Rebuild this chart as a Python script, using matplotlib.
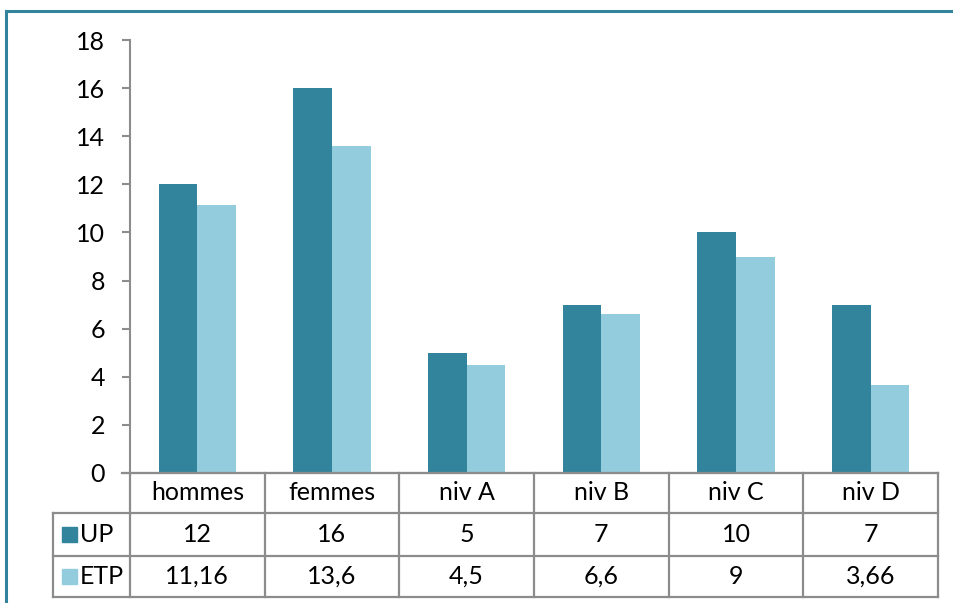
import matplotlib
matplotlib.use("Agg")
import matplotlib.pyplot as plt
from matplotlib.lines import Line2D
from matplotlib.patches import Rectangle
from matplotlib.transforms import blended_transform_factory

# Data
categories = ["hommes", "femmes", "niv A", "niv B", "niv C", "niv D"]
series_names = ["UP", "ETP"]
up_values = [12, 16, 5, 7, 10, 7]
etp_values = [11.16, 13.6, 4.5, 6.6, 9, 3.66]
up_labels = ["12", "16", "5", "7", "10", "7"]
etp_labels = ["11,16", "13,6", "4,5", "6,6", "9", "3,66"]
y_ticks = [0, 2, 4, 6, 8, 10, 12, 14, 16, 18]

UP_COLOR = "#31849B"
ETP_COLOR = "#93CDDD"
GRID_GRAY = "#8C8C8C"
FONT = "Lato"
FS = 18

W, H = 954, 603
fig = plt.figure(figsize=(W / 100, H / 100), dpi=100)


def fx(px):
    return px / W


def fy(py):
    return 1 - py / H


ax_left, ax_right, ax_top, ax_bottom = 130, 938, 40, 473
ax = fig.add_axes([fx(ax_left), fy(ax_bottom), fx(ax_right - ax_left), fy(ax_top) - fy(ax_bottom)])

n = len(categories)
xs = list(range(n))
bw = 0.286
ax.bar([x - bw / 2 for x in xs], up_values, width=bw, color=UP_COLOR, zorder=2)
ax.bar([x + bw / 2 for x in xs], etp_values, width=bw, color=ETP_COLOR, zorder=2)

ax.set_xlim(-0.5, n - 0.5)
ax.set_ylim(0, 18)
ax.set_yticks(y_ticks)
ax.set_yticklabels([str(t) for t in y_ticks], fontsize=FS, family=FONT)
ax.set_xticks([])
for s in ["top", "right"]:
    ax.spines[s].set_visible(False)
ax.spines["left"].set_color(GRID_GRAY)
ax.spines["left"].set_linewidth(1.5)
ax.spines["bottom"].set_color(GRID_GRAY)
ax.spines["bottom"].set_linewidth(1.5)
ax.tick_params(axis="y", length=6, width=1.5, color=GRID_GRAY, pad=12)

# Data table below the plot
tr = blended_transform_factory(ax.transData, fig.transFigure)
row_header, row_up, row_etp, row_end = 473, 513, 556, 597
left_col = 53


def hline(px0, px1, py):
    fig.add_artist(Line2D([fx(px0), fx(px1)], [fy(py), fy(py)], transform=fig.transFigure,
                          color=GRID_GRAY, lw=1.6))


def vline(px, py0, py1):
    fig.add_artist(Line2D([fx(px), fx(px)], [fy(py0), fy(py1)], transform=fig.transFigure,
                          color=GRID_GRAY, lw=1.6))


for b in range(n + 1):
    fig.add_artist(Line2D([b - 0.5, b - 0.5], [fy(row_header), fy(row_end)], transform=tr,
                          color=GRID_GRAY, lw=1.6))
hline(ax_left - 8, ax_right, row_header)
for py in (row_up, row_etp, row_end):
    hline(left_col, ax_right, py)
vline(left_col, row_up, row_end)

for i, cat in enumerate(categories):
    fig.text(i, fy((row_header + row_up) / 2), cat, transform=tr, ha="center", va="center",
             fontsize=FS, family=FONT)
    fig.text(i, fy((row_up + row_etp) / 2), up_labels[i], transform=tr, ha="center",
             va="center", fontsize=FS, family=FONT)
    fig.text(i, fy((row_etp + row_end) / 2), etp_labels[i], transform=tr, ha="center",
             va="center", fontsize=FS, family=FONT)

for name, color, (r0, r1) in zip(series_names, [UP_COLOR, ETP_COLOR],
                                 [(row_up, row_etp), (row_etp, row_end)]):
    cy = (r0 + r1) / 2
    fig.add_artist(Rectangle((fx(62), fy(cy + 7.5)), fx(15), fy(cy - 7.5) - fy(cy + 7.5),
                             transform=fig.transFigure, color=color))
    fig.text(fx(80), fy(cy), name, ha="left", va="center", fontsize=FS, family=FONT)

# Frame around the chart area
fig.add_artist(Line2D([fx(6), fx(W)], [fy(11), fy(11)], transform=fig.transFigure,
                      color=UP_COLOR, lw=2.2))
fig.add_artist(Line2D([fx(6), fx(6)], [fy(11), fy(H)], transform=fig.transFigure,
                      color=UP_COLOR, lw=2.2))

fig.savefig("out.png", dpi=100)
